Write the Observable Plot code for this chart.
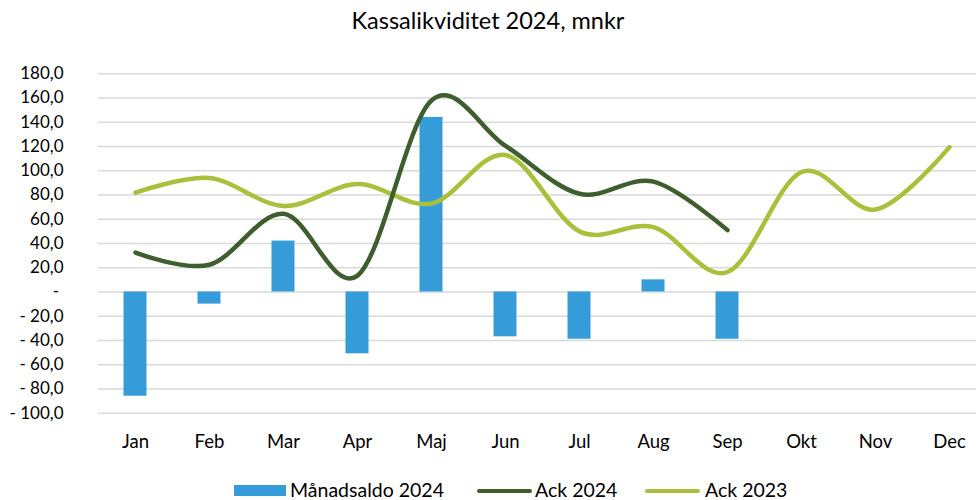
<!DOCTYPE html>
<html>
<head>
<meta charset="utf-8">
<script src="https://cdn.jsdelivr.net/npm/d3@7"></script>
<script src="https://cdn.jsdelivr.net/npm/@observablehq/plot@0.6"></script>
<style>
  body { margin: 0; background: #fff; font-family: Lato, "Open Sans", sans-serif; }
  #wrap { position: relative; width: 976px; height: 500px; overflow: hidden; }
  #title { position: absolute; left: 0; top: 6px; width: 976px; text-align: center; font-size: 23.5px; color: #000; }
  #chart { position: absolute; left: 0; top: 56px; }
  .lg { position: absolute; font-size: 19.5px; line-height: 1.2; color: #000; white-space: nowrap; }
  .sw { position: absolute; }
</style>
</head>
<body>
<div id="wrap">
  <div id="title">Kassalikviditet 2024, mnkr</div>
  <div id="chart"></div>
  <div class="sw" style="left:234px;top:485px;width:52px;height:11px;background:#359CD9"></div>
  <div class="lg" style="left:290px;top:477.5px">Månadsaldo 2024</div>
  <div class="sw" style="left:477px;top:488.5px;width:55px;height:4.5px;border-radius:3px;background:#3F5E30"></div>
  <div class="lg" style="left:535px;top:477.5px">Ack 2024</div>
  <div class="sw" style="left:645px;top:488.5px;width:55px;height:4.5px;border-radius:3px;background:#A8C03C"></div>
  <div class="lg" style="left:705px;top:477.5px">Ack 2023</div>
</div>
<script>
const months = ["Jan","Feb","Mar","Apr","Maj","Jun","Jul","Aug","Sep","Okt","Nov","Dec"];
const manadsaldo2024 = [-86, -10, 42, -51, 144, -37, -39, 10, -39];
const ack2024 = [32.5, 22.5, 64.5, 13.5, 158, 120.5, 81, 91, 51];
const ack2023 = [82, 94, 71, 89, 73, 113, 50, 53.5, 16.5, 99, 68, 119.5];
const yTicks = [-100,-80,-60,-40,-20,0,20,40,60,80,100,120,140,160,180];

const bars = manadsaldo2024.map((v, i) => ({month: months[i], value: v}));
const l24 = ack2024.map((v, i) => ({month: months[i], value: v}));
const l23 = ack2023.map((v, i) => ({month: months[i], value: v}));

const fmt1 = d3.format(".1f");
const fmt = d => d === 0 ? "-\u00a0" : (d < 0 ? "- " + fmt1(-d).replace(".", ",") : fmt1(d).replace(".", ","));

const chart = Plot.plot({
  width: 976,
  height: 404,
  marginLeft: 98,
  marginRight: 0,
  marginTop: 17,
  marginBottom: 47,
  style: {fontFamily: "Lato, 'Open Sans', sans-serif", fontSize: "15px", color: "#000", background: "#fff"},
  x: {type: "band", domain: months, range: [98, 986], padding: 0},
  y: {domain: [-100, 180], range: [356.7, 17.3]},
  marks: [
    Plot.ruleY(yTicks, {stroke: "#d9d9d9", strokeWidth: 1.6}),
    Plot.barY(bars, {x: "month", y: "value", fill: "#359CD9", insetLeft: 25.5, insetRight: 25.5}),
    Plot.line(l23, {x: "month", y: "value", stroke: "#A8C03C", strokeWidth: 4.5, curve: "cardinal", tension: 0, strokeLinecap: "round"}),
    Plot.line(l24, {x: "month", y: "value", stroke: "#3F5E30", strokeWidth: 4.5, curve: "cardinal", tension: 0, strokeLinecap: "round"}),
    Plot.axisY({ticks: yTicks, tickSize: 0, tickPadding: 35, tickFormat: fmt, fontSize: 17, label: null}),
    Plot.axisX({tickSize: 0, tickPadding: 21, fontSize: 18.5, label: null})
  ]
});
document.getElementById("chart").appendChild(chart);
</script>
</body>
</html>
